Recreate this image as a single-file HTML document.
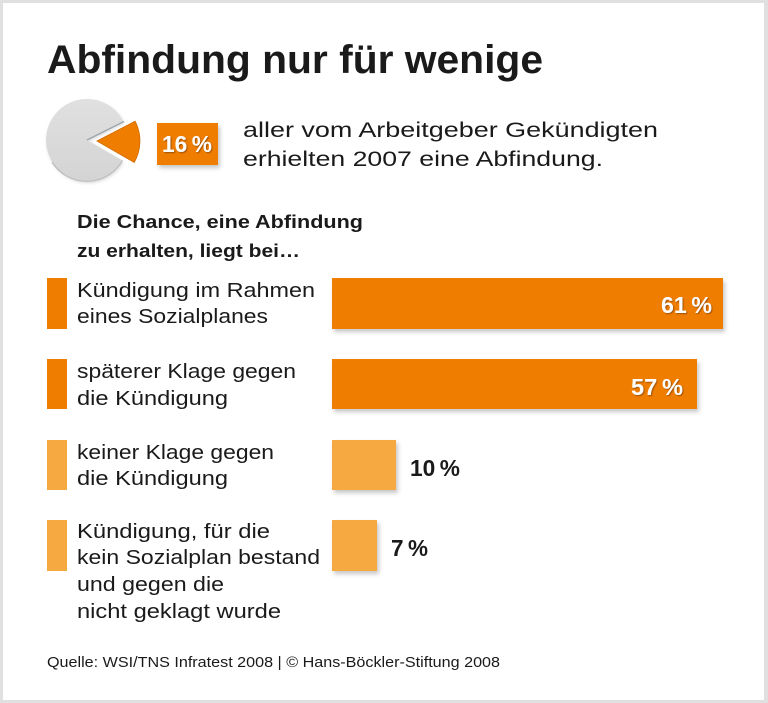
<!DOCTYPE html>
<html><head><meta charset="utf-8"><style>
html,body{margin:0;padding:0;background:#fff;}
svg{display:block;}
text{font-family:"Liberation Sans",Arial,sans-serif;}
</style></head><body>
<svg width="768" height="703" viewBox="0 0 768 703" xmlns="http://www.w3.org/2000/svg">
<defs>
<filter id="sh" x="-20%" y="-20%" width="150%" height="160%">
<feDropShadow dx="2" dy="3" stdDeviation="2" flood-color="#000" flood-opacity="0.22"/>
</filter>
<filter id="psh" x="-20%" y="-20%" width="150%" height="160%">
<feDropShadow dx="1" dy="2" stdDeviation="1.5" flood-color="#000" flood-opacity="0.15"/>
</filter>
<filter id="ts" x="-10%" y="-10%" width="130%" height="140%">
<feDropShadow dx="1" dy="1" stdDeviation="0.6" flood-color="#6a3500" flood-opacity="0.6"/>
</filter>
<linearGradient id="pg" x1="0" y1="0" x2="0" y2="1">
<stop offset="0" stop-color="#e0e0e0"/>
<stop offset="1" stop-color="#d4d4d4"/>
</linearGradient>
</defs>
<!-- frame -->
<rect x="0" y="0" width="768" height="703" fill="#e0e0e0"/>
<rect x="3" y="3" width="761" height="697" fill="#ffffff"/>

<!-- title -->
<text x="47" y="73" font-size="40" font-weight="bold" fill="#1a1a1a" textLength="496" lengthAdjust="spacingAndGlyphs">Abfindung nur für wenige</text>

<!-- pie -->
<g filter="url(#psh)">
<path d="M87,140 L123.4,121.1 A41,41 0 1,0 122.5,160.5 Z" fill="url(#pg)"/>
</g>
<path d="M52,162 A41,41 0 0,0 122.5,160.5" fill="none" stroke="#bdbdbd" stroke-width="1.2"/>
<line x1="87" y1="140" x2="124" y2="121.5" stroke="#9aa4ae" stroke-width="1.3"/>
<path d="M97,141 L135.1,121.2 A43,43 0 0,1 134.2,162.5 Z" fill="#ee7d00" stroke="#d06a00" stroke-width="0.8"/>

<!-- 16% box -->
<rect x="157" y="123" width="61" height="42" fill="#ee7d00" filter="url(#sh)"/>
<text x="162" y="152" font-size="23" font-weight="bold" fill="#fff" textLength="50" lengthAdjust="spacingAndGlyphs" filter="url(#ts)">16&#8201;%</text>

<text x="243" y="137" font-size="21" fill="#1a1a1a" textLength="415" lengthAdjust="spacingAndGlyphs">aller vom Arbeitgeber Gekündigten</text>
<text x="243" y="166" font-size="21" fill="#1a1a1a" textLength="360" lengthAdjust="spacingAndGlyphs">erhielten 2007 eine Abfindung.</text>

<!-- subheading -->
<text x="77" y="228" font-size="18" font-weight="bold" fill="#1a1a1a" textLength="286" lengthAdjust="spacingAndGlyphs">Die Chance, eine Abfindung</text>
<text x="77" y="257" font-size="18" font-weight="bold" fill="#1a1a1a" textLength="223" lengthAdjust="spacingAndGlyphs">zu erhalten, liegt bei…</text>

<!-- markers -->
<rect x="47" y="278" width="20" height="51" fill="#ee7d00"/>
<rect x="47" y="359" width="20" height="50" fill="#ee7d00"/>
<rect x="47" y="440" width="20" height="50" fill="#f6a941"/>
<rect x="47" y="520" width="20" height="51" fill="#f6a941"/>

<!-- labels -->
<g font-size="20.5" fill="#1a1a1a">
<text x="77" y="297" textLength="238" lengthAdjust="spacingAndGlyphs">Kündigung im Rahmen</text>
<text x="77" y="323" textLength="191" lengthAdjust="spacingAndGlyphs">eines Sozialplanes</text>
<text x="77" y="378" textLength="219" lengthAdjust="spacingAndGlyphs">späterer Klage gegen</text>
<text x="77" y="405" textLength="151" lengthAdjust="spacingAndGlyphs">die Kündigung</text>
<text x="77" y="459" textLength="197" lengthAdjust="spacingAndGlyphs">keiner Klage gegen</text>
<text x="77" y="485" textLength="151" lengthAdjust="spacingAndGlyphs">die Kündigung</text>
<text x="77" y="538" textLength="193" lengthAdjust="spacingAndGlyphs">Kündigung, für die</text>
<text x="77" y="564" textLength="243" lengthAdjust="spacingAndGlyphs">kein Sozialplan bestand</text>
<text x="77" y="591" textLength="147" lengthAdjust="spacingAndGlyphs">und gegen die</text>
<text x="77" y="618" textLength="204" lengthAdjust="spacingAndGlyphs">nicht geklagt wurde</text>
</g>

<!-- bars -->
<g filter="url(#sh)">
<rect x="332" y="278" width="391" height="51" fill="#ee7d00"/>
<rect x="332" y="359" width="365" height="50" fill="#ee7d00"/>
<rect x="332" y="440" width="64" height="50" fill="#f6a941"/>
<rect x="332" y="520" width="45" height="51" fill="#f6a941"/>
</g>

<g font-size="23" font-weight="bold">
<text x="661" y="313" fill="#fff" textLength="51" lengthAdjust="spacingAndGlyphs" filter="url(#ts)">61&#8201;%</text>
<text x="631" y="395" fill="#fff" textLength="52" lengthAdjust="spacingAndGlyphs" filter="url(#ts)">57&#8201;%</text>
<text x="410" y="476" fill="#1a1a1a" textLength="50" lengthAdjust="spacingAndGlyphs">10&#8201;%</text>
<text x="391" y="556" fill="#1a1a1a" textLength="37" lengthAdjust="spacingAndGlyphs">7&#8201;%</text>
</g>

<!-- source -->
<text x="47" y="667" font-size="15" fill="#1a1a1a" textLength="453" lengthAdjust="spacingAndGlyphs">Quelle: WSI/TNS Infratest 2008 | © Hans-Böckler-Stiftung 2008</text>
</svg>
</body></html>
